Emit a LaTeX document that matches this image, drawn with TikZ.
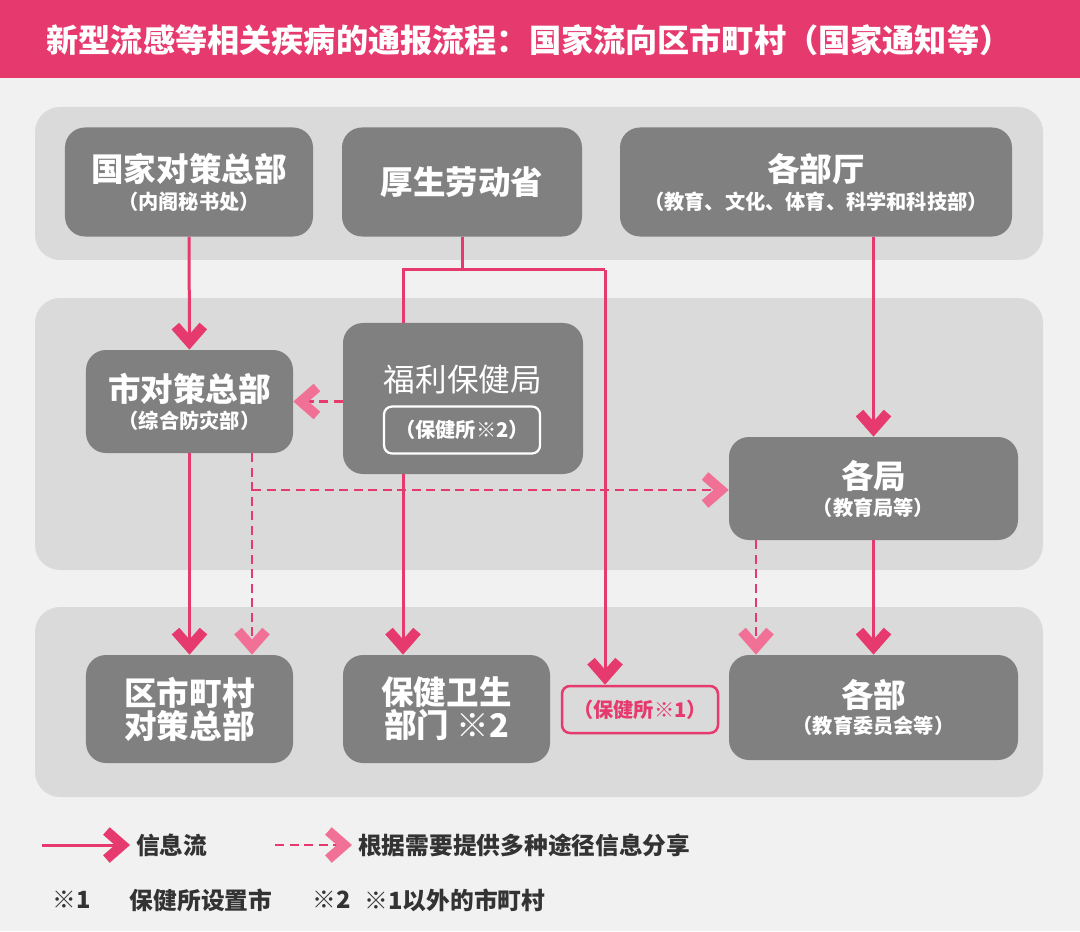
\documentclass[tikz,border=0pt]{standalone}
\usepackage{fontspec}
\setmainfont{Noto Sans CJK SC}
\usetikzlibrary{arrows.meta}
\definecolor{pkred}{RGB}{230,57,110}
\definecolor{pklight}{RGB}{240,112,150}
\definecolor{gybg}{RGB}{241,241,241}
\definecolor{gyband}{RGB}{218,218,218}
\definecolor{gybox}{RGB}{128,128,128}
\definecolor{gytext}{RGB}{51,51,51}
\newcommand{\bigtxt}{\fontsize{18.5pt}{21pt}\selectfont\bfseries}
\newcommand{\subtxt}{\fontsize{11.5pt}{14pt}\selectfont\bfseries}
\newcommand{\legtxt}{\fontsize{13.5pt}{16pt}\selectfont\bfseries}

\begin{document}
\begin{tikzpicture}[x=0.2mm,y=-0.2mm,
  box/.style={fill=gybox,rounded corners=4mm,text=white,align=center,inner sep=0pt},
  band/.style={fill=gyband,rounded corners=5mm},
  flow/.style={pkred,line width=0.6mm,-{Straight Barb[sharp,length=3.2mm,width=5.6mm,line width=2mm]}},
  share/.style={pkred,line width=0.55mm,dash pattern=on 1.8mm off 1.1mm,
    -{Straight Barb[sharp,length=3.2mm,width=5.6mm,line width=2mm,color=pklight]}}]
  \useasboundingbox (0,0) rectangle (1080,931);
  \fill[gybg] (0,0) rectangle (1080,931);
  \fill[pkred] (0,0) rectangle (1080,78);
  \node[text=white,font=\fontsize{18.3pt}{22pt}\selectfont\bfseries] (title) at (529,40)
    {新型流感等相关疾病的通报流程：国家流向区市町村（国家通知等）};
  % bands
  \fill[band] (35,107) rectangle (1043,260);
  \fill[band] (35,298) rectangle (1043,570);
  \fill[band] (35,607) rectangle (1043,797);
  % national level
  \node[box,minimum width=49.6mm,minimum height=21.8mm] (hq) at (189,182)
    {{\bigtxt 国家对策总部}\\[1.4mm]{\subtxt （内阁秘书处）}};
  \node[box,minimum width=48mm,minimum height=21.8mm] (mhlw) at (462,182)
    {\bigtxt 厚生劳动省};
  \node[box,minimum width=78.4mm,minimum height=21.8mm] (mins) at (816,182)
    {{\bigtxt 各部厅}\\[1.4mm]{\subtxt （教育、文化、体育、科学和科技部）}};
  % city level
  \node[box,minimum width=41.4mm,minimum height=20.6mm] (cityhq) at (189.5,401.5)
    {{\bigtxt 市对策总部}\\[1.2mm]{\subtxt （综合防灾部）}};
  \node[box,minimum width=48mm,minimum height=30.2mm] (welfare) at (463,398.5) {};
  \node[text=white,font=\fontsize{18pt}{21pt}\selectfont] (wtitle) at (463,380) {福利保健局};
  \node[draw=white,line width=0.45mm,rounded corners=1.6mm,text=white,font=\subtxt,
    minimum width=31.2mm,minimum height=9.4mm] (hc2) at (462,430) {（保健所※2）};
  \node[box,minimum width=57.8mm,minimum height=20.6mm] (bureau) at (873.5,488.5)
    {{\bigtxt 各局}\\[1.2mm]{\subtxt （教育局等）}};
  % municipal level
  \node[box,minimum width=41.4mm,minimum height=21.6mm] (muni) at (189.5,709)
    {\bigtxt 区市町村\\\bigtxt 对策总部};
  \node[box,minimum width=41.4mm,minimum height=21.6mm] (health) at (446.5,709)
    {\bigtxt 保健卫生\\\bigtxt 部门\ ※2};
  \node[draw=pkred,line width=0.5mm,rounded corners=1.6mm,text=pkred,font=\subtxt,
    minimum width=31.2mm,minimum height=9.4mm] (hc1) at (640,709.5) {（保健所※1）};
  \node[box,minimum width=57.8mm,minimum height=21mm] (dept) at (873.5,707.5)
    {{\bigtxt 各部}\\[1mm]{\subtxt （教育委员会等）}};
  % connectors
  \coordinate (jL) at (403,270);
  \coordinate (jR) at (605,270);
  \coordinate (dv) at (252,490);
  \coordinate (dr) at (756,560);
  \draw[flow] (hq) -- (cityhq);
  \draw[pkred,line width=0.6mm] (mhlw.south) |- (jL) -- (jL |- welfare.north);
  \draw[pkred,line width=0.6mm] (mhlw.south) |- (jR);
  \draw[flow] (jR) -- (jR |- hc1.north);
  \draw[flow] (jL |- welfare.south) -- (jL |- health.north);
  \draw[share] (welfare.west |- cityhq.east) -- (cityhq.east);
  \draw[flow] (cityhq) -- (muni);
  \draw[share] (cityhq.south -| dv) -- (muni.north -| dv);
  \draw[share] (dv) -- (dv -| bureau.west);
  \draw[flow] (mins.south -| bureau) -- (bureau);
  \draw[flow] (bureau) -- (dept);
  \draw[share] (bureau.south -| dr) -- (dept.north -| dr);
  % legend
  \node[text=gytext,font=\legtxt,anchor=west] (lgflow) at (130,845) {信息流};
  \node[text=gytext,font=\legtxt,anchor=west] (lgshare) at (352,845) {根据需要提供多种途径信息分享};
  \coordinate (lgA) at (42,845);
  \coordinate (lgB) at (275,845);
  \draw[flow] (lgA) -- (lgflow.west);
  \draw[share] (lgB) -- (lgshare.west);
  \node[text=gytext,font=\legtxt] (n1) at (72,900) {※1};
  \node[text=gytext,font=\legtxt] (n1t) at (201,900) {保健所设置市};
  \node[text=gytext,font=\legtxt] (n2) at (332,900) {※2};
  \node[text=gytext,font=\legtxt] (n2t) at (455,900) {※1以外的市町村};
\end{tikzpicture}
\end{document}
